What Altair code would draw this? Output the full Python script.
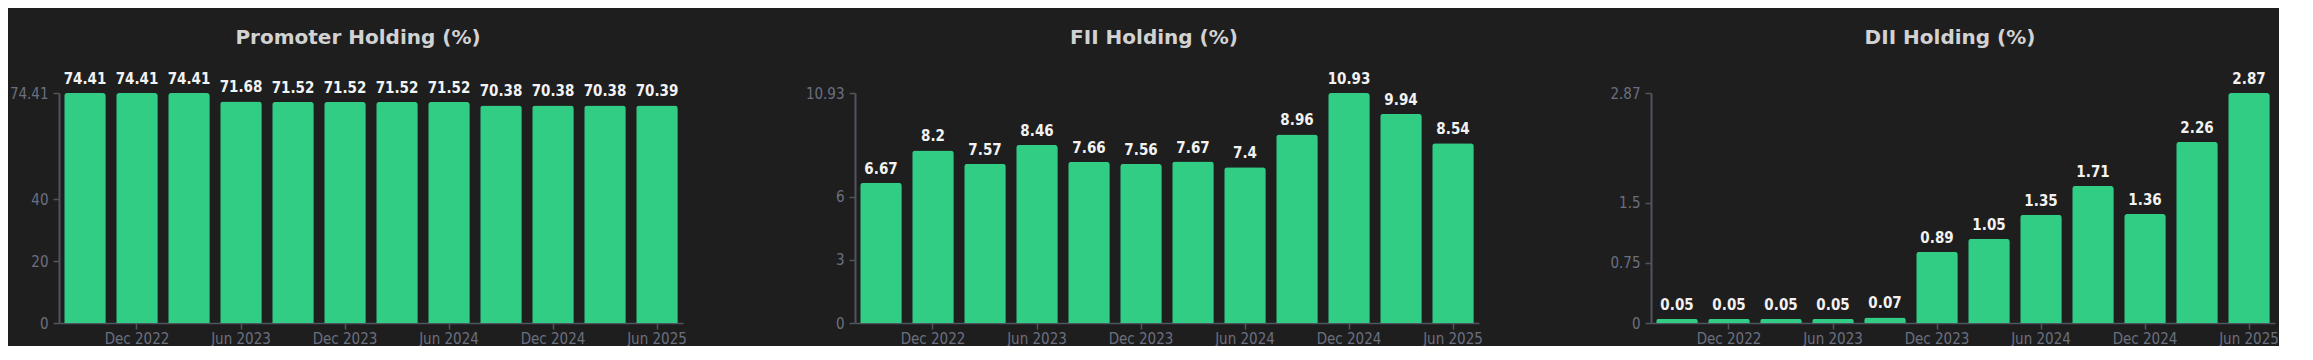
import altair as alt
import pandas as pd

quarters = ["Sep 2022", "Dec 2022", "Mar 2023", "Jun 2023", "Sep 2023", "Dec 2023",
            "Mar 2024", "Jun 2024", "Sep 2024", "Dec 2024", "Mar 2025", "Jun 2025"]
x_tick_labels = ["Dec 2022", "Jun 2023", "Dec 2023", "Jun 2024", "Dec 2024", "Jun 2025"]

promoter = [74.41, 74.41, 74.41, 71.68, 71.52, 71.52, 71.52, 71.52, 70.38, 70.38, 70.38, 70.39]
fii = [6.67, 8.2, 7.57, 8.46, 7.66, 7.56, 7.67, 7.4, 8.96, 10.93, 9.94, 8.54]
dii = [0.05, 0.05, 0.05, 0.05, 0.07, 0.89, 1.05, 1.35, 1.71, 1.36, 2.26, 2.87]

promoter_ticks = [0, 20, 40, 74.41]
fii_ticks = [0, 3, 6, 10.93]
dii_ticks = [0, 0.75, 1.5, 2.87]

titles = ["Promoter Holding (%)", "FII Holding (%)", "DII Holding (%)"]

BG = "#1e1e1e"
BAR = "#32CD85"
AXIS = "#50545e"
LABEL = "#6b7080"
NARROW = "Liberation Sans Narrow, DejaVu Sans Condensed, Liberation Sans"


def panel(title, values, ticks):
    df = pd.DataFrame({"q": quarters, "v": values, "lbl": [str(v) for v in values]})
    x = alt.X(
        "q:N", sort=quarters,
        scale=alt.Scale(paddingInner=0.2, paddingOuter=0.1),
        axis=alt.Axis(values=x_tick_labels, title=None, labelAngle=0,
                      labelFont=NARROW, labelFontSize=15, labelColor=LABEL,
                      domainColor=AXIS, domainWidth=1.5, tickColor=AXIS,
                      tickSize=6, tickWidth=1.5, labelPadding=2),
    )
    y = alt.Y(
        "v:Q",
        scale=alt.Scale(domain=[0, max(values)], nice=False, zero=True),
        axis=alt.Axis(values=ticks, title=None, grid=False,
                      labelExpr="'' + datum.value",
                      labelFont=NARROW, labelFontSize=15, labelColor=LABEL,
                      domainColor=AXIS, domainWidth=2, tickColor=AXIS,
                      tickSize=6, tickWidth=1.5, labelPadding=5,
                      minExtent=51, maxExtent=51),
    )
    base = alt.Chart(df).encode(x=x, y=y)
    bars = base.mark_bar(color=BAR, cornerRadiusTopLeft=3, cornerRadiusTopRight=3)
    text = base.mark_text(baseline="bottom", dy=-6, color="#f2f2f2",
                          font=NARROW, fontSize=15, fontWeight="bold").encode(text="lbl:N")
    return alt.layer(bars, text).properties(
        width=624, height=230,
        title=alt.TitleParams(title, dx=-13, frame="group", anchor="middle",
                              font="DejaVu Sans", fontSize=20, fontWeight="bold",
                              color="#d2d2d2", offset=24),
    )


chart = alt.hconcat(
    panel(titles[0], promoter, promoter_ticks),
    panel(titles[1], fii, fii_ticks),
    panel(titles[2], dii, dii_ticks),
    spacing=117,
).properties(
    background=BG,
    padding={"left": 0, "top": 20, "right": 0, "bottom": 0},
    usermeta={"embedOptions": {"defaultStyle": "body{background:%s;}" % BG}},
).configure_view(stroke=None)

chart.save("out.html", embed_options={"renderer": "svg", "actions": False})
